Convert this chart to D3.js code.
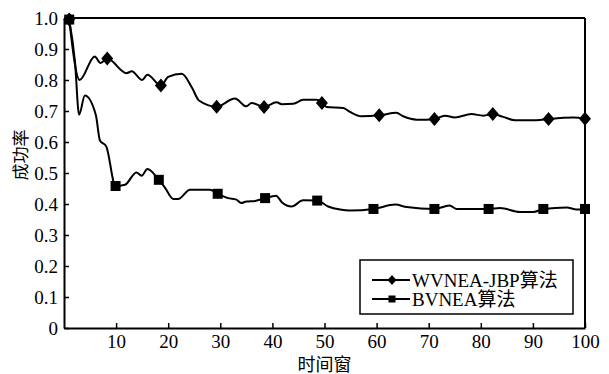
<!doctype html>
<html lang="zh">
  <head>
    <meta charset="utf-8">
    <title>成功率</title>
    <script src="https://d3js.org/d3.v7.min.js"></script>
    <style>
      body { margin: 0; background: #fff; }
      svg text { font-family: "Liberation Serif", "Noto Sans CJK SC", serif; fill: #000; }
      .axis path, .axis line { stroke: #000; }
    </style>
  </head>

  <body>
    <svg width="609" height="374"></svg>
    <script>
      // WVNEA-JBP (diamonds)
      var wvX = [1, 3, 5.9, 7, 8.3, 12, 13, 15, 16, 18.6, 20, 22.6, 24.6, 25.9, 29.3, 32.8, 35, 36, 38.4,
                 40.8, 41.8, 44, 45.9, 48.5, 49.5, 50.4, 53.6, 54.9, 57.1, 60.5, 63.8, 65.1, 67.7, 69.6,
                 71.1, 73.1, 75, 78.2, 80.5, 82.3, 84.3, 86.6, 90.7, 93, 97.8, 100];
      var wvY = [0.995, 0.80, 0.876, 0.855, 0.869, 0.822, 0.828, 0.80, 0.817, 0.782, 0.81, 0.82, 0.774, 0.734,
                 0.714, 0.74, 0.715, 0.726, 0.713, 0.728, 0.722, 0.723, 0.736, 0.736, 0.726, 0.713, 0.71,
                 0.697, 0.683, 0.686, 0.694, 0.683, 0.672, 0.672, 0.674, 0.685, 0.679, 0.69, 0.685, 0.69,
                 0.681, 0.67, 0.67, 0.674, 0.679, 0.675];
      var wvMarks = [0, 4, 9, 14, 18, 24, 29, 34, 39, 43, 45];

      // BVNEA (squares)
      var bvX = [1, 2.1, 2.9, 4, 6.1, 6.9, 8.1, 9.9, 11.7, 13.9, 14.9, 16, 18.2, 19.4, 21, 21.9, 24.2, 28,
                 29.5, 31.5, 33.1, 34, 35, 36.7, 38.6, 40.7, 41.8, 43.7, 45.9, 48.6, 50.7, 53, 54.9, 59.4,
                 63.6, 65.8, 71.1, 74, 75.4, 81.5, 83.7, 87.5, 90.1, 92, 96.5, 98.4, 100];
      var bvY = [0.995, 0.86, 0.688, 0.75, 0.688, 0.605, 0.586, 0.458, 0.462, 0.502, 0.491, 0.513, 0.478,
                 0.452, 0.416, 0.416, 0.446, 0.446, 0.433, 0.419, 0.414, 0.403, 0.408, 0.41, 0.419, 0.427,
                 0.406, 0.392, 0.412, 0.411, 0.392, 0.382, 0.379, 0.384, 0.398, 0.39, 0.384, 0.395, 0.384,
                 0.384, 0.387, 0.374, 0.374, 0.384, 0.389, 0.382, 0.384];
      var bvMarks = [0, 7, 12, 18, 24, 29, 33, 36, 39, 43, 46];

      var xTicks = [10, 20, 30, 40, 50, 60, 70, 80, 90, 100];
      var yTicks = [0, 0.1, 0.2, 0.3, 0.4, 0.5, 0.6, 0.7, 0.8, 0.9, 1.0];
      var legendNames = ['WVNEA-JBP算法', 'BVNEA算法'];

      var serif = '"Liberation Serif", "Noto Sans CJK SC", serif';

      var svg = d3.select('svg');

      var x = d3.scaleLinear().domain([0, 100]).range([64, 585]);
      var y = d3.scaleLinear().domain([0, 1]).range([328, 18]);

      // frame top + right
      svg.append('line').attr('x1', x(0)).attr('x2', x(100)).attr('y1', y(1)).attr('y2', y(1))
        .style('stroke', '#000').style('stroke-width', 2);
      svg.append('line').attr('x1', x(100)).attr('x2', x(100)).attr('y1', y(1)).attr('y2', y(0))
        .style('stroke', '#000').style('stroke-width', 2);

      var xAxis = svg.append('g').attr('class', 'axis')
        .attr('transform', 'translate(0,' + y(0) + ')')
        .call(d3.axisBottom(x).tickValues(xTicks).tickSize(-5).tickSizeOuter(0).tickPadding(7));
      xAxis.attr('font-family', serif);
      xAxis.select('.domain').style('stroke-width', 2);
      xAxis.selectAll('line').style('stroke-width', 1.5);
      xAxis.selectAll('text').style('font-size', '19px');

      var yAxis = svg.append('g').attr('class', 'axis')
        .attr('transform', 'translate(' + x(0) + ',0)')
        .call(d3.axisLeft(y).tickValues(yTicks).tickSize(-5).tickSizeOuter(0).tickPadding(6)
          .tickFormat(function(d){ return d === 0 ? '0' : d3.format('.1f')(d); }));
      yAxis.attr('font-family', serif);
      yAxis.select('.domain').style('stroke-width', 2);
      yAxis.selectAll('line').style('stroke-width', 1.5);
      yAxis.selectAll('text').style('font-size', '19px');

      svg.append('text').text('时间窗')
        .attr('x', x(50)).attr('y', 371)
        .attr('text-anchor', 'middle').style('font-size', '18px');

      svg.append('text').text('成功率')
        .attr('transform', 'translate(27,155) rotate(-90)')
        .attr('text-anchor', 'middle').style('font-size', '17px');

      var line = d3.line()
        .x(function(d){ return x(d[0]); })
        .y(function(d){ return y(d[1]); })
        .curve(d3.curveMonotoneX);

      var wv = d3.zip(wvX, wvY);
      var bv = d3.zip(bvX, bvY);

      svg.append('path').datum(wv).attr('d', line)
        .style('fill', 'none').style('stroke', '#000').style('stroke-width', 2);
      svg.append('path').datum(bv).attr('d', line)
        .style('fill', 'none').style('stroke', '#000').style('stroke-width', 2);

      var diamond = function(cx, cy, w, h) {
        return 'M' + cx + ',' + (cy - h / 2) + 'L' + (cx + w / 2) + ',' + cy +
               'L' + cx + ',' + (cy + h / 2) + 'L' + (cx - w / 2) + ',' + cy + 'Z';
      };

      svg.selectAll('path.dia').data(wvMarks).enter().append('path')
        .attr('class', 'dia')
        .attr('d', function(i){ return diamond(x(wvX[i]), y(wvY[i]), 12, 14); })
        .style('fill', '#000');

      svg.selectAll('rect.sq').data(bvMarks).enter().append('rect')
        .attr('class', 'sq')
        .attr('x', function(i){ return x(bvX[i]) - 5; })
        .attr('y', function(i){ return y(bvY[i]) - 5; })
        .attr('width', 10).attr('height', 10)
        .style('fill', '#000');

      // legend
      var lg = svg.append('g');
      lg.append('rect').attr('x', 360).attr('y', 260).attr('width', 213).attr('height', 54)
        .style('fill', '#fff').style('stroke', '#000').style('stroke-width', 1.5);

      var rows = lg.selectAll('g').data(legendNames).enter().append('g')
        .attr('transform', function(d, i){ return 'translate(0,' + (280 + i * 19) + ')'; });
      rows.append('line').attr('x1', 372).attr('x2', 410)
        .style('stroke', '#000').style('stroke-width', 2);
      rows.filter(function(d, i){ return i === 0; }).append('path')
        .attr('d', diamond(392, 0, 9, 10)).style('fill', '#000');
      rows.filter(function(d, i){ return i === 1; }).append('rect')
        .attr('x', 388.5).attr('y', -3.5).attr('width', 7).attr('height', 7).style('fill', '#000');
      rows.append('text').text(function(d){ return d; })
        .attr('x', 412).attr('y', 7).style('font-size', '19px');
    </script>
  </body>
</html>
